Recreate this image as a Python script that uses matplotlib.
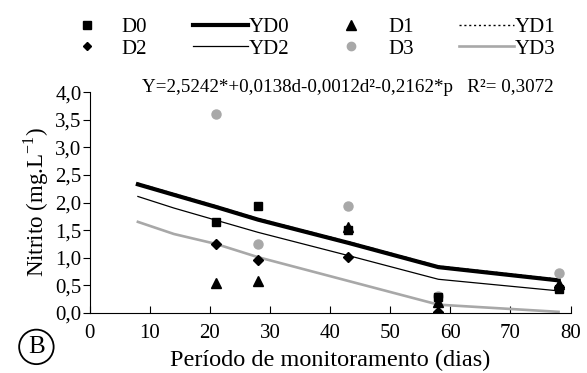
import matplotlib
matplotlib.use("Agg")
import matplotlib.pyplot as plt
from matplotlib.lines import Line2D

plt.rcParams["font.family"] = ["Liberation Serif", "DejaVu Serif"]
plt.rcParams["mathtext.fontset"] = "custom"
plt.rcParams["mathtext.rm"] = "Liberation Serif"

# Dias de coleta (pontos observados)
dias = [21, 28, 43, 58, 78]
d0 = [1.64, 1.94, 1.51, 0.29, 0.43]
d1 = [0.54, 0.57, 1.55, 0.20, 0.52]
d2 = [1.24, 0.96, 1.01, 0.02, 0.47]
d3 = [3.61, 1.25, 1.94, 0.30, 0.72]

# Curvas ajustadas
dias_modelo = [8, 14, 21, 28, 43, 58, 78]
yd0 = [2.33, 2.14, 1.92, 1.69, 1.27, 0.83, 0.59]
yd1 = [2.35, 2.16, 1.94, 1.71, 1.29, 0.85, 0.61]
yd2 = [2.11, 1.90, 1.68, 1.46, 1.04, 0.61, 0.40]
yd3 = [1.65, 1.43, 1.25, 1.01, 0.58, 0.15, 0.02]

cinza = "#a8a8a8"
pontilhado = (0, (1.5, 2))

fig = plt.figure(figsize=(5.87, 3.73), dpi=100)
ax = fig.add_axes([0.153, 0.161, 0.819, 0.592])

# Linhas ajustadas
ax.plot(dias_modelo, yd3, color=cinza, linewidth=1.9)
ax.plot(dias_modelo, yd2, color="black", linewidth=0.9)
ax.plot(dias_modelo, yd0, color="black", linewidth=3.0)
ax.plot(dias_modelo, yd1, color="black", linewidth=1.0, linestyle=pontilhado)

# Pontos observados
ax.plot(dias, d3, "o", color=cinza, markersize=6.5, linestyle="none")
ax.plot(dias, d0, "s", color="black", markersize=6, linestyle="none")
ax.plot(dias, d1, "^", color="black", markersize=7, linestyle="none")
ax.plot(dias, d2, "D", color="black", markersize=5, linestyle="none")

ax.set_xlim(0, 80)
ax.set_ylim(0, 4.0)
ax.set_xticks(range(0, 81, 10))
ax.set_yticks([i * 0.5 for i in range(9)])
ax.set_yticklabels([f"{i * 0.5:.1f}".replace(".", ",") for i in range(9)])
ax.spines["top"].set_visible(False)
ax.spines["right"].set_visible(False)
ax.tick_params(axis="x", direction="in", length=5, labelsize=15, pad=8)
ax.tick_params(axis="y", direction="out", length=5, labelsize=15, pad=1)

ax.set_xlabel("Período de monitoramento (dias)", fontsize=17.5, labelpad=5)
ax.set_ylabel(r"Nitrito (mg.L$^{\mathregular{-1}}$)", fontsize=16.5, labelpad=3)

ax.text(0.536, 1.02, "Y=2,5242*+0,0138d-0,0012d²-0,2162*p   R²= 0,3072",
        transform=ax.transAxes, ha="center", va="center", fontsize=13.7)

# Letra do painel
fig.text(0.062, 0.070, "B", ha="center", va="center", fontsize=18,
         bbox=dict(boxstyle="circle,pad=0.25", facecolor="white",
                   edgecolor="black", linewidth=1.3))

# Legenda em quatro colunas (uma legenda por coluna)
colunas = [
    ([Line2D([], [], marker="s", color="black", linestyle="none", markersize=5.8),
      Line2D([], [], marker="D", color="black", linestyle="none", markersize=4.5)],
     ["D0", "D2"], 0.101, 0.36),
    ([Line2D([], [], color="black", linewidth=3.0),
      Line2D([], [], color="black", linewidth=0.9)],
     ["YD0", "YD2"], 0.329, 0.05),
    ([Line2D([], [], marker="^", color="black", linestyle="none", markersize=6.5),
      Line2D([], [], marker="o", color=cinza, linestyle="none", markersize=6)],
     ["D1", "D3"], 0.551, 0.48),
    ([Line2D([], [], color="black", linewidth=1.0, linestyle=pontilhado),
      Line2D([], [], color=cinza, linewidth=1.9)],
     ["YD1", "YD3"], 0.782, 0.05),
]
for handles, labels, x, pad in colunas:
    fig.legend(handles, labels, loc="center left", bbox_to_anchor=(x, 0.898),
               frameon=False, fontsize=15, handlelength=2.64,
               handletextpad=pad, labelspacing=0.1, borderpad=0,
               borderaxespad=0)

fig.savefig("out.png", dpi=100)
